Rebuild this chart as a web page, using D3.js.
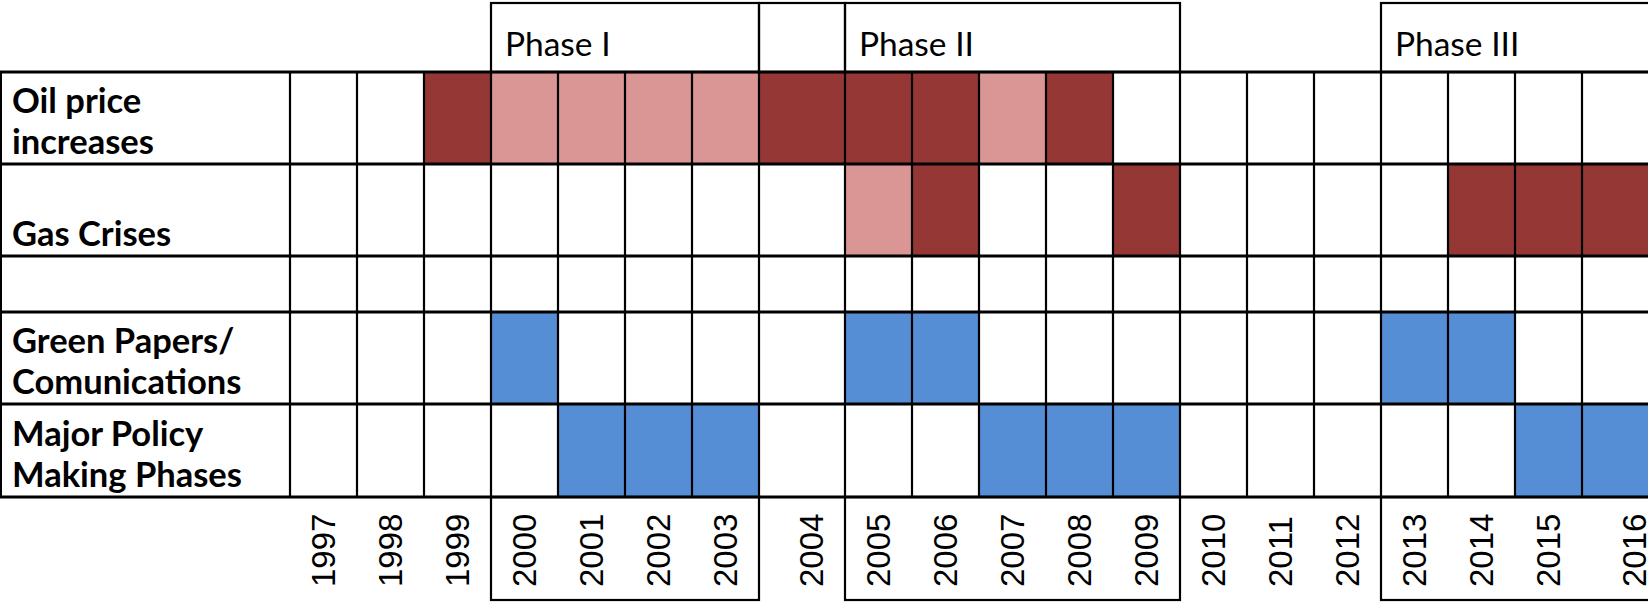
<!DOCTYPE html>
<html>
<head>
<meta charset="utf-8">
<script src="https://cdn.jsdelivr.net/npm/d3@7"></script>
<style>
  html, body { margin: 0; padding: 0; background: #fff; overflow: hidden; }
  svg { display: block; }
</style>
</head>
<body>
<svg id="chart" width="1648" height="602"></svg>
<script>
// ---- data ----
const years = [1997,1998,1999,2000,2001,2002,2003,2004,2005,2006,2007,2008,2009,2010,2011,2012,2013,2014,2015,2016];
const rowLabels = [["Oil price","increases"],["Gas Crises"],[],["Green Papers/","Comunications"],["Major Policy","Making Phases"]];
// 0 = empty, 1 = light, 2 = strong
const oilPrice   = [0,0,2,1,1,1,1,2,2,2,1,2,0,0,0,0,0,0,0,0];
const gasCrises  = [0,0,0,0,0,0,0,0,1,2,0,0,2,0,0,0,0,2,2,2];
const spacerRow  = [0,0,0,0,0,0,0,0,0,0,0,0,0,0,0,0,0,0,0,0];
const greenPapers= [0,0,0,1,0,0,0,0,1,1,0,0,0,0,0,0,1,1,0,0];
const majorPolicy= [0,0,0,0,1,1,1,0,0,0,1,1,1,0,0,0,0,0,1,1];
const phaseNames = ["Phase I","Phase II","Phase III"];
const phaseStart = [2000,2005,2013];
const phaseEnd   = [2003,2009,2016];
const gapYears   = [2004];
const wideYears  = [2004,2016];

// ---- layout ----
const W = 1648, H = 602;
const labelW = 290;
const colW = 67, wideW = 86;
const rowTops = [72, 164, 256, 312, 404, 497];
const stripTop = 3, stripBottom = 600;
const rowPalette = [["#ffffff","#da9694","#953735"],["#ffffff","#da9694","#953735"],["#ffffff","#ffffff","#ffffff"],["#ffffff","#558ed5","#558ed5"],["#ffffff","#558ed5","#558ed5"]];
const rowsData = [oilPrice, gasCrises, spacerRow, greenPapers, majorPolicy];

const svg = d3.select("#chart");

// column edges via cumulative widths
const edges = [labelW];
years.forEach(y => edges.push(edges[edges.length-1] + (wideYears.includes(y) ? wideW : colW)));
const xLeft = d3.scaleOrdinal().domain(years).range(edges.slice(0,-1));
const xRight = d3.scaleOrdinal().domain(years).range(edges.slice(1));
const yTop = d3.scaleOrdinal().domain(d3.range(rowsData.length)).range(rowTops.slice(0,-1));
const yBot = d3.scaleOrdinal().domain(d3.range(rowsData.length)).range(rowTops.slice(1));

// cells
const cells = [];
rowsData.forEach((row, r) => row.forEach((v, i) => cells.push({r, year: years[i], v})));
svg.append("g").selectAll("rect").data(cells).join("rect")
  .attr("x", d => xLeft(d.year))
  .attr("y", d => yTop(d.r))
  .attr("width", d => xRight(d.year) - xLeft(d.year))
  .attr("height", d => yBot(d.r) - yTop(d.r))
  .attr("fill", d => rowPalette[d.r][d.v]);

// vertical grid lines
const grid = svg.append("g").attr("stroke", "#000");
grid.selectAll("line.v").data(edges.slice(0,-1)).join("line")
  .attr("class","v")
  .attr("x1", d => d).attr("x2", d => d)
  .attr("y1", rowTops[0]).attr("y2", rowTops[rowTops.length-1])
  .attr("stroke-width", 2.2);
grid.append("line").attr("x1",1).attr("x2",1).attr("y1",rowTops[0]).attr("y2",rowTops[rowTops.length-1]).attr("stroke-width",2);
// horizontal lines
grid.selectAll("line.h").data(rowTops).join("line")
  .attr("class","h")
  .attr("x1", 0).attr("x2", W)
  .attr("y1", d => d).attr("y2", d => d)
  .attr("stroke-width", 3);

// phase boxes (top strip and bottom strip)
const boxes = svg.append("g").attr("fill","none").attr("stroke","#000").attr("stroke-width",2.2);
const phases = phaseNames.map((n,i) => ({name:n, from:phaseStart[i], to:phaseEnd[i]}));
const topBoxes = phases.concat(gapYears.map(y => ({name:"", from:y, to:y})));
boxes.selectAll("rect.top").data(topBoxes).join("rect")
  .attr("class","top")
  .attr("x", d => xLeft(d.from))
  .attr("y", stripTop)
  .attr("width", d => xRight(d.to) - xLeft(d.from))
  .attr("height", rowTops[0] - stripTop);
boxes.selectAll("rect.bot").data(phases).join("rect")
  .attr("class","bot")
  .attr("x", d => xLeft(d.from))
  .attr("y", rowTops[rowTops.length-1])
  .attr("width", d => xRight(d.to) - xLeft(d.from))
  .attr("height", stripBottom - rowTops[rowTops.length-1]);

// phase labels
svg.append("g").selectAll("text").data(phases).join("text")
  .attr("x", d => xLeft(d.from) + 14)
  .attr("y", 56)
  .attr("font-family", "Lato, 'Open Sans', sans-serif")
  .attr("font-size", 33.5)
  .attr("fill", "#000")
  .text(d => d.name);

// row labels (bottom aligned)
const lineH = 41;
const labelG = svg.append("g")
  .attr("font-family", "Lato, 'Open Sans', sans-serif")
  .attr("font-weight", "bold")
  .attr("font-size", 34.5)
  .attr("fill", "#000");
rowLabels.forEach((lines, r) => {
  lines.forEach((t, k) => {
    labelG.append("text")
      .attr("x", 12)
      .attr("y", yBot(r) - 10 - (lines.length - 1 - k) * lineH)
      .text(t);
  });
});

// year labels (rotated)
svg.append("g").selectAll("text").data(years).join("text")
  .attr("transform", d => `translate(${xRight(d) - 34},587) rotate(-90)`)
  .attr("dy", "0.35em")
  .attr("font-family", "'Liberation Sans', Arial, sans-serif")
  .attr("font-size", 33)
  .attr("fill", "#000")
  .text(d => d);
</script>
</body>
</html>
